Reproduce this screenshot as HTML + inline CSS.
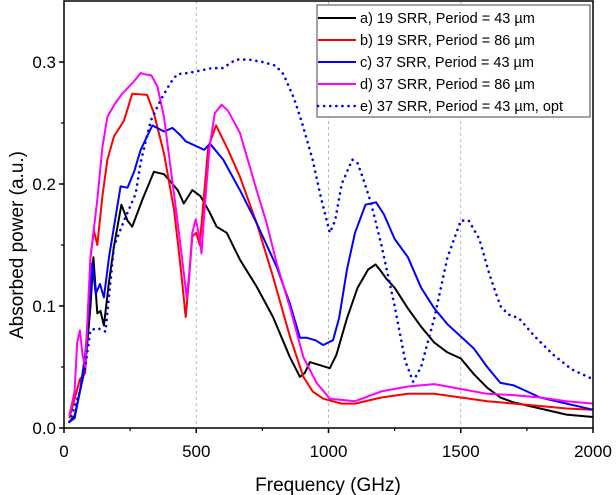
<!DOCTYPE html>
<html><head><meta charset="utf-8">
<style>
html,body{margin:0;padding:0;background:#fff;}
svg{display:block;font-family:"Liberation Sans",Arial,sans-serif;}
</style></head>
<body>
<svg id="chart" width="616" height="495" viewBox="0 0 616 495"></svg>
<script>
const xTicks=[0,500,1000,1500,2000];
const yTicks=[0.0,0.1,0.2,0.3];
const yTickLabels=["0.0","0.1","0.2","0.3"];
const seriesNames=["a) 19 SRR, Period = 43 \u00b5m","b) 19 SRR, Period = 86 \u00b5m","c) 37 SRR, Period = 43 \u00b5m","d) 37 SRR, Period = 86 \u00b5m","e) 37 SRR, Period = 43 \u00b5m, opt"];
const seriesA=[[20,.005],[40,.01],[60,.03],[80,.05],[100,.1],[111,.14],[126,.094],[138,.096],[151,.084],[170,.12],[189,.149],[217,.183],[240,.17],[258,.165],[296,.187],[340,.21],[378,.208],[403,.202],[430,.195],[453,.184],[485,.195],[516,.19],[550,.177],[577,.165],[615,.16],[665,.138],[728,.116],[790,.091],[854,.058],[892,.042],[910,.045],[930,.054],[960,.052],[1005,.049],[1030,.06],[1070,.09],[1110,.115],[1150,.13],[1178,.134],[1200,.128],[1220,.122],[1250,.115],[1300,.098],[1350,.083],[1400,.07],[1450,.062],[1500,.057],[1550,.044],[1600,.033],[1650,.025],[1700,.021],[1800,.016],[1900,.011],[2000,.009]];
const seriesB=[[20,.008],[60,.04],[80,.045],[100,.14],[113,.162],[126,.15],[145,.19],[164,.22],[189,.239],[227,.252],[258,.274],[314,.273],[340,.258],[378,.225],[416,.179],[441,.132],[460,.091],[472,.12],[485,.157],[500,.16],[513,.15],[525,.18],[545,.23],[575,.248],[620,.228],[665,.206],[728,.168],[790,.124],[854,.075],[905,.042],[940,.03],[980,.024],[1050,.02],[1100,.02],[1200,.025],[1300,.028],[1400,.028],[1500,.025],[1600,.022],[1700,.02],[1800,.018],[1900,.016],[2000,.015]];
const seriesC=[[20,.005],[40,.008],[60,.03],[80,.06],[95,.1],[107,.135],[120,.11],[136,.118],[151,.107],[170,.14],[189,.165],[214,.198],[240,.197],[265,.21],[290,.228],[334,.248],[378,.243],[410,.246],[440,.24],[460,.235],[510,.23],[530,.228],[552,.233],[602,.22],[665,.195],[728,.168],[804,.132],[854,.102],[892,.074],[917,.074],[950,.072],[980,.068],[1017,.072],[1040,.09],[1070,.13],[1100,.16],[1140,.183],[1180,.185],[1210,.175],[1250,.155],[1300,.14],[1350,.115],[1400,.098],[1450,.085],[1500,.075],[1550,.065],[1600,.05],[1650,.037],[1700,.035],[1750,.03],[1800,.025],[1900,.02],[2000,.015]];
const seriesD=[[20,.01],[40,.03],[50,.07],[60,.08],[70,.06],[80,.05],[100,.14],[126,.187],[145,.23],[164,.255],[190,.265],[220,.274],[260,.283],[290,.291],[303,.29],[330,.289],[353,.28],[378,.255],[416,.192],[441,.149],[464,.107],[475,.13],[485,.16],[498,.171],[513,.156],[520,.143],[530,.175],[550,.23],[570,.258],[596,.265],[620,.26],[665,.242],[728,.195],[766,.168],[804,.135],[854,.099],[905,.058],[955,.037],[1005,.024],[1050,.023],[1100,.022],[1200,.03],[1300,.034],[1400,.036],[1500,.032],[1600,.028],[1700,.027],[1800,.025],[1900,.022],[2000,.02]];
const seriesE=[[20,.005],[60,.03],[80,.05],[100,.08],[126,.082],[157,.079],[189,.149],[227,.17],[271,.192],[290,.218],[328,.252],[366,.269],[403,.283],[428,.29],[470,.291],[517,.293],[560,.295],[600,.295],[650,.302],[700,.302],[750,.3],[800,.297],[830,.29],[870,.27],[900,.25],[940,.22],[970,.19],[1005,.16],[1025,.17],[1050,.2],[1090,.22],[1110,.217],[1130,.205],[1160,.185],[1200,.15],[1250,.1],[1290,.055],[1320,.038],[1350,.05],[1400,.09],[1450,.14],[1500,.17],[1530,.17],[1570,.155],[1610,.125],[1650,.1],[1680,.093],[1720,.09],[1780,.075],[1850,.06],[1920,.048],[2000,.04]];
const allSeries=[seriesA,seriesB,seriesC,seriesD,seriesE];
const colors=["#000","#f00","#00f","#f0f","#00f"];

const L=64,R=593,T=1,B=428;
const xs=f=>L+(f/2000)*(R-L);
const ys=v=>B-(v/0.35)*(B-T);
const svg=document.getElementById('chart');
const NS="http://www.w3.org/2000/svg";
function mk(tag,attrs,parent){const e=document.createElementNS(NS,tag);for(const k in attrs)e.setAttribute(k,attrs[k]);(parent||svg).appendChild(e);return e;}

[500,1000,1500].forEach(f=>{
  const g=mk('line',{x1:xs(f),x2:xs(f),y1:T,y2:B,stroke:'#aaa','stroke-width':0.8,'stroke-dasharray':'3,3'});
  
  
});
allSeries.forEach((s,i)=>{
  const d=s.map((p,j)=>(j?'L':'M')+xs(p[0]).toFixed(1)+','+ys(p[1]).toFixed(1)).join(' ');
  const attrs={d:d,fill:'none',stroke:colors[i],'stroke-width':2,'stroke-linejoin':'round'};
  if(i===4){attrs['stroke-dasharray']='0.1,6';attrs['stroke-linecap']='round';attrs['stroke-width']=2.6;}
  const p=mk('path',attrs);
  
  
});
const fr=mk('rect',{x:L,y:T,width:R-L,height:B-T,fill:'none',stroke:'#000','stroke-width':1.5});


xTicks.forEach(f=>{
  mk('line',{x1:xs(f),x2:xs(f),y1:B,y2:B+5,stroke:'#000','stroke-width':1.5});
  const t=mk('text',{x:xs(f),y:B+29,'text-anchor':'middle','font-size':17,fill:'#000'});
  t.textContent=f;
  
  
});
[250,750,1250,1750].forEach(f=>mk('line',{x1:xs(f),x2:xs(f),y1:B,y2:B+3,stroke:'#000','stroke-width':1.2}));
yTicks.forEach((v,i)=>{
  mk('line',{x1:L-5,x2:L,y1:ys(v),y2:ys(v),stroke:'#000','stroke-width':1.5});
  const t=mk('text',{x:L-8,y:ys(v)+6,'text-anchor':'end','font-size':17,fill:'#000'});
  t.textContent=yTickLabels[i];
  
  
});
[0.05,0.15,0.25].forEach(v=>mk('line',{x1:L-3,x2:L,y1:ys(v),y2:ys(v),stroke:'#000','stroke-width':1.2}));
const xt=mk('text',{x:328,y:491,'text-anchor':'middle','font-size':19,fill:'#000'});
xt.textContent='Frequency (GHz)';


const yt=mk('text',{x:0,y:0,'text-anchor':'middle','font-size':19,fill:'#000',transform:'translate(23,245) rotate(-90)'});
yt.textContent='Absorbed power (a.u.)';


const lg=mk('g',{});


mk('rect',{x:317,y:5,width:273,height:112,fill:'#fff',stroke:'#444','stroke-width':1},lg);
seriesNames.forEach((n,i)=>{
  const y=18+i*22;
  const la={x1:318,x2:356,y1:y,y2:y,stroke:colors[i],'stroke-width':2};
  if(i===4){la['stroke-dasharray']='0.1,6';la['stroke-linecap']='round';la['stroke-width']=2.6;}
  mk('line',la,lg);
  const t=mk('text',{x:360,y:y+5,'font-size':14.5,fill:'#000'},lg);
  t.textContent=n;
  
  
});
</script>
</body></html>
